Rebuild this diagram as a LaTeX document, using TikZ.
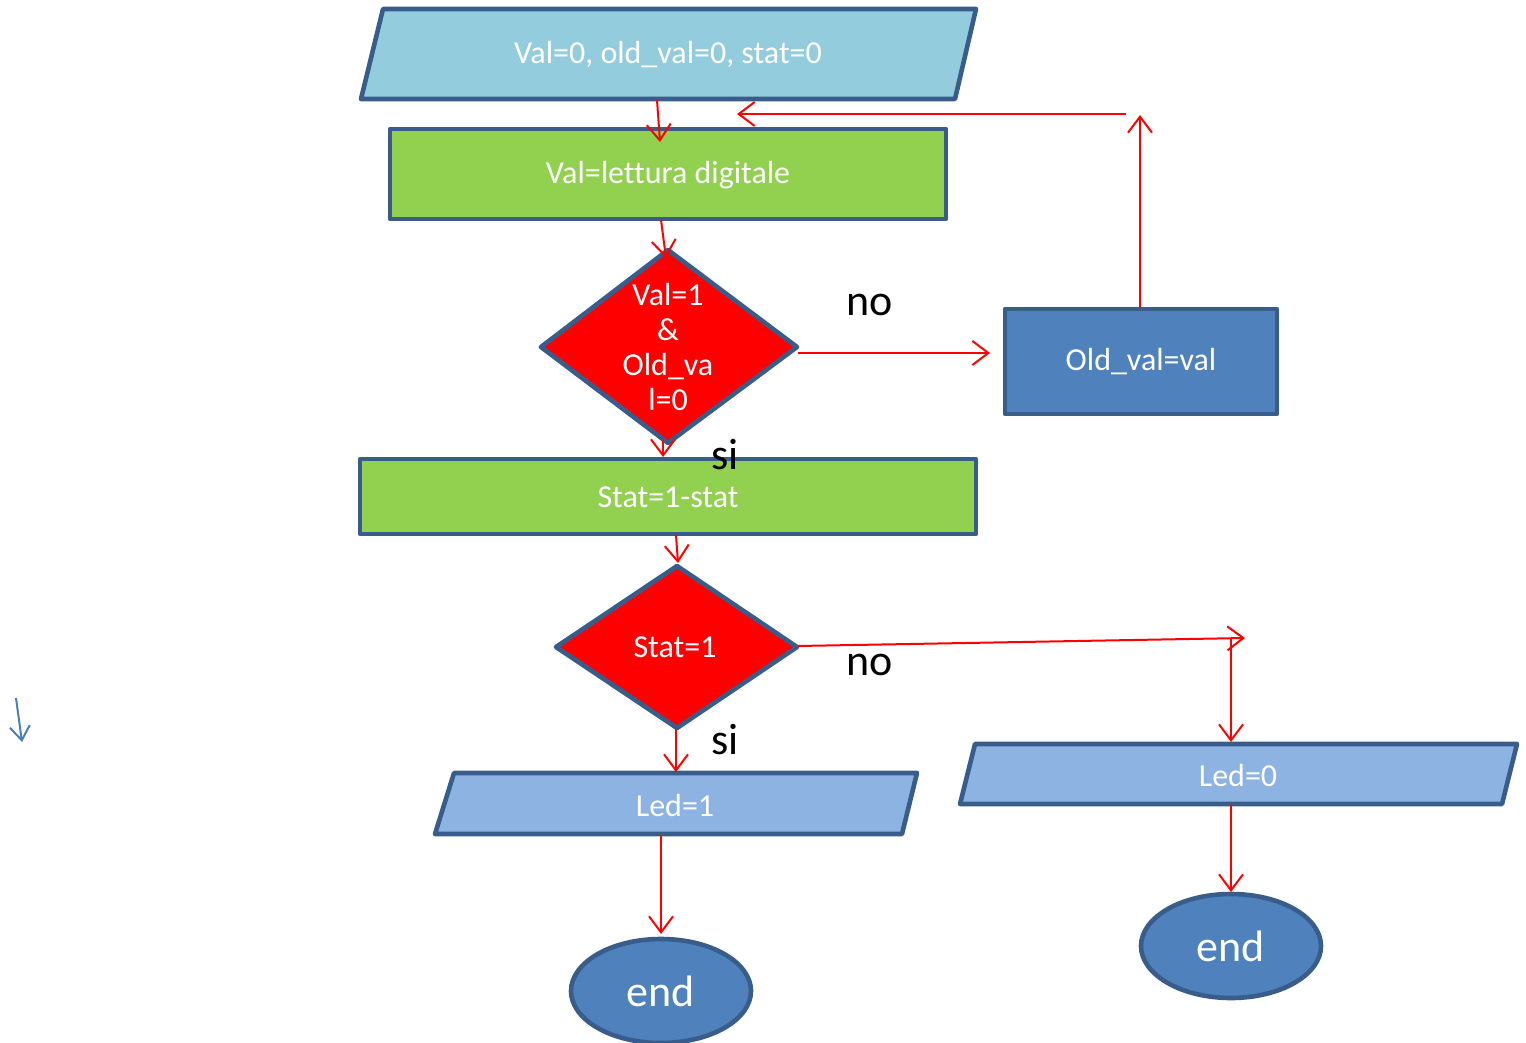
\documentclass[tikz,border=0pt]{standalone}
\usepackage{fontspec}
\setmainfont[RawFeature=-liga]{Carlito}
\usetikzlibrary{arrows.meta,shapes.geometric}
\definecolor{bord}{RGB}{56,93,138}
\definecolor{cyanfill}{RGB}{147,205,221}
\definecolor{greenfill}{RGB}{146,208,80}
\definecolor{bluefill}{RGB}{79,129,189}
\definecolor{ltbluefill}{RGB}{141,179,226}
\definecolor{smallarrow}{RGB}{74,126,187}
\tikzset{
  shp/.style={draw=bord, line width=2.3pt, line join=round},
  txt/.style={text=white, font=\fontsize{16}{17.5}\selectfont, inner sep=0pt, align=center},
  lbl/.style={text=black, font=\fontsize{22}{26}\selectfont, inner sep=0pt},
  conn/.style={draw=red, line width=1pt, -{Straight Barb[length=8pt,width=12pt,line width=1pt]}},
  endnode/.style={ellipse, shp, fill=bluefill, minimum width=90pt, minimum height=52pt, text=white, font=\fontsize{22}{26}\selectfont, inner sep=0pt}
}
\begin{document}
\begin{tikzpicture}[x=0.5pt,y=-0.5pt]
\useasboundingbox (0,0) rectangle (1526,1043);
\fill[white] (0,0) rectangle (1526,1043);

% shapes
\filldraw[shp, fill=cyanfill] (383,9) -- (976,9) -- (955,99) -- (361,99) -- cycle;
\node[txt] (init) at (668,55) {Val=0, old\_val=0, stat=0};

\filldraw[shp, fill=greenfill] (390,129) rectangle (946,219);
\node[txt] (read) at (668,175) {Val=lettura digitale};

\filldraw[shp, fill=red] (668,250) -- (797,347) -- (668,443) -- (541,347) -- cycle;
\node[txt] (cond1) at (668,347) {Val=1\\\&\\Old\_va\\l=0};

\filldraw[shp, fill=bluefill] (1005,309) rectangle (1277,414);
\node[txt] (upd) at (1141,362) {Old\_val=val};

\filldraw[shp, fill=greenfill] (360,459) rectangle (976,534);
\node[txt] (tog) at (668,497) {Stat=1-stat};

\filldraw[shp, fill=red] (677,566) -- (797,647) -- (677,728) -- (556,647) -- cycle;
\node[txt] (cond2) at (675,647) {Stat=1};

\filldraw[shp, fill=ltbluefill] (454,773) -- (917,773) -- (902,834) -- (435,834) -- cycle;
\node[txt] (led1) at (675,805) {Led=1};

\filldraw[shp, fill=ltbluefill] (975,744) -- (1517,744) -- (1502,804) -- (960,804) -- cycle;
\node[txt] (led0) at (1238,775) {Led=0};

\node[endnode] (end1) at (661,991) {end};
\node[endnode] (end2) at (1231,946) {end};

% labels
\node[lbl] (no1) at (870,305) {no};
\node[lbl] (no2) at (870,665) {no};
\node[lbl] (si1) at (725,455) {si};
\node[lbl] (si2) at (725,740) {si};

% connector coordinates
\coordinate (a1) at (657,100);  \coordinate (a2) at (660,142);
\coordinate (b1) at (1126,114); \coordinate (b2) at (737,114);
\coordinate (c1) at (1140,308); \coordinate (c2) at (1140,115);
\coordinate (d1) at (661,220);  \coordinate (d2) at (666,258);
\coordinate (e1) at (798,353);  \coordinate (e2) at (990,353);
\coordinate (f1) at (663,440);  \coordinate (f2) at (663,457);
\coordinate (g1) at (676,535);  \coordinate (g2) at (678,563);
\coordinate (h1) at (798,646);  \coordinate (h2) at (1245,638);
\coordinate (i1) at (1231,639); \coordinate (i2) at (1231,742);
\coordinate (j1) at (676,729);  \coordinate (j2) at (676,772);
\coordinate (k1) at (661,835);  \coordinate (k2) at (661,934);
\coordinate (l1) at (1231,805); \coordinate (l2) at (1231,892);
\coordinate (m1) at (16,698);   \coordinate (m2) at (22,742);

\draw[conn] (a1) -- (a2);
\draw[conn] (b1) -- (b2);
\draw[conn] (c1) -- (c2);
\draw[conn] (d1) -- (d2);
\draw[conn] (e1) -- (e2);
\draw[conn] (f1) -- (f2);
\draw[conn] (g1) -- (g2);
\draw[conn] (h1) -- (h2);
\draw[conn] (i1) -- (i2);
\draw[conn] (j1) -- (j2);
\draw[conn] (k1) -- (k2);
\draw[conn] (l1) -- (l2);
\draw[draw=smallarrow, line width=1pt, -{Straight Barb[length=7pt,width=10pt,line width=1pt]}] (m1) -- (m2);
\end{tikzpicture}
\end{document}
